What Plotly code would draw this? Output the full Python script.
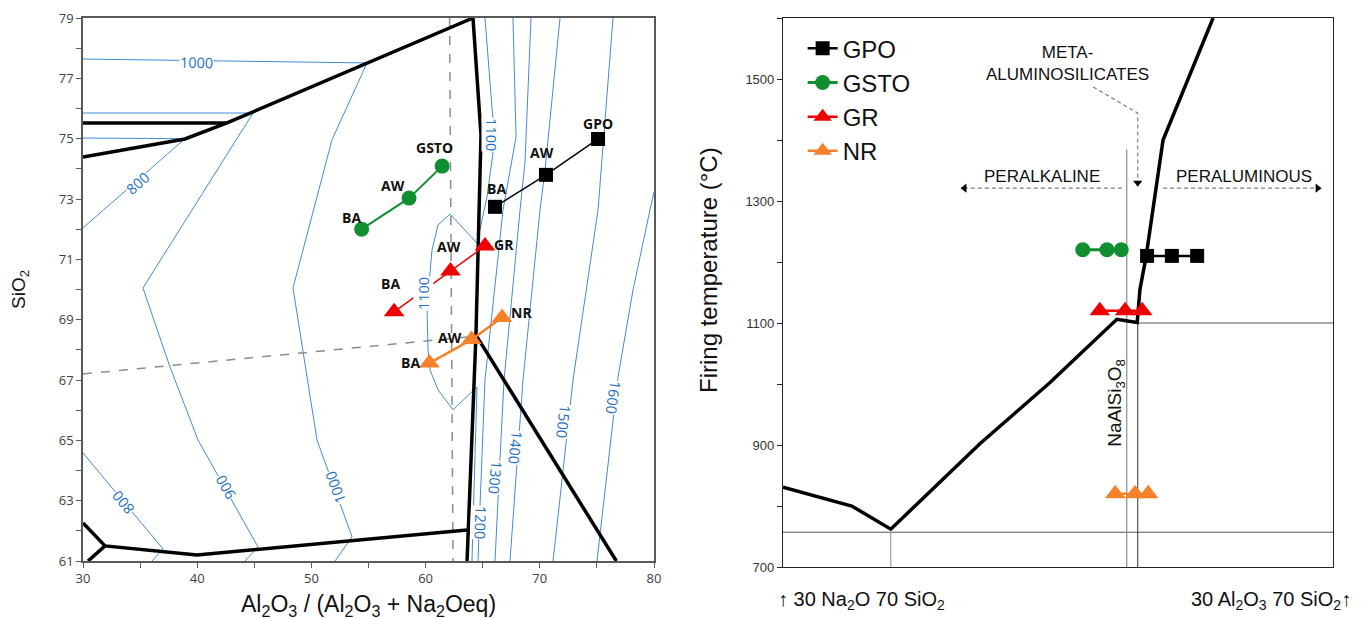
import plotly.graph_objects as go

# ================= LEFT PANEL DATA (x = Al2O3/(Al2O3+Na2Oeq), y = SiO2) =================
GSTO_x = [54.40, 58.55, 61.45]
GSTO_y = [72.00, 73.03, 74.09]
GPO_x = [66.08, 70.54, 75.10]
GPO_y = [72.74, 73.80, 74.99]
GR_x = [57.24, 62.18, 65.20]
GR_y = [69.26, 70.61, 71.44]
NR_x = [60.34, 64.02, 66.69]
NR_y = [67.56, 68.34, 69.07]

# phase-field boundaries (thick black)
B_top_x = [30, 38.93, 42.61, 64.15]
B_top_y = [74.39, 74.99, 75.52, 79.0]
B_hor_x = [30, 42.61]
B_hor_y = [75.52, 75.52]
B_vert_x = [64.15, 64.85, 64.41, 63.63]
B_vert_y = [79.0, 75.12, 68.49, 61.0]
B_diag_x = [64.41, 76.70]
B_diag_y = [68.49, 61.0]
B_bot_x = [30, 31.93, 39.98, 63.63]
B_bot_y = [62.26, 61.50, 61.20, 62.03]
B_corner_x = [31.93, 30.44]
B_corner_y = [61.50, 61.0]

# dashed reference lines
D_vert_x = [62.10, 62.40]
D_vert_y = [79.0, 61.0]
D_slant_x = [30, 64.30]
D_slant_y = [67.20, 68.45]

# isotherms (thin blue)
C800a_x = [30, 38.93, 30]
C800a_y = [75.02, 75.00, 72.04]
C800b_x = [30, 37.01, 36.04]
C800b_y = [64.58, 61.40, 61.0]
C900_x = [30, 44.89, 35.25, 37.62, 40.07, 45.32, 44.19]
C900_y = [75.85, 75.85, 70.05, 67.43, 65.01, 61.47, 61.0]
C1000_x = [30, 54.87, 51.80, 48.39, 50.49, 53.56, 52.07]
C1000_y = [77.64, 77.51, 74.96, 70.05, 65.01, 61.80, 61.0]
C1100_x = [65.20, 65.90, 65.90, 65.38, 64.50, 62.14, 61.09, 60.56, 60.12, 60.21, 60.39, 61.09, 62.40, 64.50, 64.06]
C1100_y = [79.0, 75.62, 74.53, 73.07, 71.54, 72.50, 72.14, 71.31, 69.42, 68.00, 67.33, 66.67, 66.01, 66.77, 61.0]
C1200_x = [67.65, 67.92, 66.78, 65.20, 64.76, 64.59]
C1200_y = [79.0, 75.06, 72.64, 67.00, 62.79, 61.0]
C1300_x = [69.23, 68.70, 68.27, 66.87, 66.51, 66.08]
C1300_y = [79.0, 74.19, 72.64, 67.00, 64.35, 61.0]
C1400_x = [71.77, 70.46, 70.02, 68.53, 67.39]
C1400_y = [79.0, 73.96, 72.64, 67.00, 61.0]
C1500_x = [76.41, 75.10, 72.91, 71.16]
C1500_y = [79.0, 72.64, 67.00, 61.0]
C1600_x = [80.0, 79.65, 78.16, 76.85, 75.01]
C1600_y = [73.23, 72.64, 69.98, 67.10, 61.0]

iso_labels = ["800", "1000", "800", "900", "1000", "1100", "1100", "1200", "1300", "1400", "1500", "1600"]
iso_label_x = [34.73, 39.98, 33.50, 42.43, 52.07, 59.77, 65.81, 64.76, 66.08, 67.83, 72.03, 76.41]
iso_label_y = [73.53, 77.54, 62.96, 63.45, 63.42, 69.88, 75.12, 62.26, 63.79, 64.78, 65.61, 66.44]
iso_label_angle = [-41, 1, -130, -119, -110, -90, 90, 92, 95, 96, 97, 98]

# ================= RIGHT PANEL DATA (x = composition 0..100, y = firing temperature) =================
LIQ_x = [0, 12.5, 19.6, 35.8, 48.5, 60.7, 64.4, 64.9, 66.0, 69.1, 78.2]
LIQ_T = [831, 800, 762, 902, 1002, 1106, 1101, 1155, 1208, 1400, 1600]
EUT_X = 19.6
EUT_T = 757
ALB_X = 62.5
ALB_TOP_T = 1385
SAT_X = 64.5
SAT_T = 1100

GPO_R_x = [66.2, 70.7, 75.3]
GPO_R_T = [1210, 1210, 1210]
GSTO_R_x = [54.5, 58.9, 61.5]
GSTO_R_T = [1220, 1220, 1220]
GR_R_x = [57.6, 62.2, 65.3]
GR_R_T = [1120, 1120, 1120]
NR_R_x = [60.4, 64.0, 66.4]
NR_R_T = [820, 820, 820]

META_x = [56.4, 64.5, 64.5]
META_T = [1487, 1444, 1330]
PALK_x = [61.6, 33.0]
PALU_x = [69.1, 97.2]
ARROW_T = 1321

# ================= STYLE =================
BLUE_LINE = "#3f8bd8"
BLUE_TXT = "#1a6fc4"
GREEN = "#0f8f2f"
RED = "#ee0000"
ORANGE = "#f5822a"
BLACK = "#000000"

W, H = 1363, 619
OFF = 8  # page body margin of the browser


def xp(px):
    return (px - OFF) / W


def yp(py):
    return 1 - (py - OFF) / H


fig = go.Figure()


def L(x, y, color, width, dash=None):
    fig.add_trace(go.Scatter(x=x, y=y, mode="lines", xaxis="x", yaxis="y", showlegend=False,
                             hoverinfo="skip",
                             line=dict(color=color, width=width, dash=dash)))


def R(x, y, color, width, dash=None):
    fig.add_trace(go.Scatter(x=x, y=y, mode="lines", xaxis="x2", yaxis="y2", showlegend=False,
                             hoverinfo="skip",
                             line=dict(color=color, width=width, dash=dash)))


# isotherms
for cx, cy in [(C800a_x, C800a_y), (C800b_x, C800b_y), (C900_x, C900_y), (C1000_x, C1000_y),
               (C1100_x, C1100_y), (C1200_x, C1200_y), (C1300_x, C1300_y), (C1400_x, C1400_y),
               (C1500_x, C1500_y), (C1600_x, C1600_y)]:
    L(cx, cy, BLUE_LINE, 1)

# dashed lines
L(D_vert_x, D_vert_y, "#8c8c8c", 1.5, "dash")
L(D_slant_x, D_slant_y, "#8c8c8c", 1.5, "dash")

# boundaries
for bx, by in [(B_top_x, B_top_y), (B_hor_x, B_hor_y), (B_vert_x, B_vert_y), (B_diag_x, B_diag_y),
               (B_bot_x, B_bot_y), (B_corner_x, B_corner_y)]:
    L(bx, by, BLACK, 3.5)

# samples (left)
left_series = [
    ("GSTO", GSTO_x, GSTO_y, GREEN, "circle", 15, 2),
    ("GPO", GPO_x, GPO_y, BLACK, "square", 14, 1.5),
    ("GR", GR_x, GR_y, RED, "triangle-up", 18, 1.5),
    ("NR", NR_x, NR_y, ORANGE, "triangle-up", 18, 2.5),
]
for name, sx, sy, col, sym, size, w in left_series:
    fig.add_trace(go.Scatter(x=sx, y=sy, mode="lines+markers", xaxis="x", yaxis="y", showlegend=False,
                             name=name, line=dict(color=col, width=w),
                             marker=dict(symbol=sym, size=size, color=col)))

# ---- right panel lines ----
R([0, 100], [EUT_T, EUT_T], "#555555", 1)
R([EUT_X, EUT_X], [700, EUT_T], "#8c8c8c", 1)
R([ALB_X, ALB_X], [700, ALB_TOP_T], "#8c8c8c", 1.2)
R([SAT_X, SAT_X], [700, SAT_T], "#333333", 1)
R([SAT_X, 100], [SAT_T, SAT_T], "#555555", 1)
R(LIQ_x, LIQ_T, BLACK, 3.5)

# dashed arrows
DASH = "4px,3px"
R(META_x, META_T, "#7f7f7f", 1.2, DASH)
R(PALK_x, [ARROW_T, ARROW_T], "#7f7f7f", 1.2, DASH)
R(PALU_x, [ARROW_T, ARROW_T], "#7f7f7f", 1.2, DASH)
fig.add_trace(go.Scatter(x=[META_x[-1], PALK_x[-1], PALU_x[-1]], y=[META_T[-1], ARROW_T, ARROW_T],
                         mode="markers", xaxis="x2", yaxis="y2", showlegend=False, hoverinfo="skip",
                         marker=dict(symbol=["triangle-down", "triangle-left", "triangle-right"],
                                     size=8, color="#000000")))

right_series = [
    ("GPO", GPO_R_x, GPO_R_T, BLACK, "square", 14, 2.5),
    ("GSTO", GSTO_R_x, GSTO_R_T, GREEN, "circle", 15, 3),
    ("GR", GR_R_x, GR_R_T, RED, "triangle-up", 18, 2.5),
    ("NR", NR_R_x, NR_R_T, ORANGE, "triangle-up", 18, 2.5),
]
for name, sx, sy, col, sym, size, w in right_series:
    fig.add_trace(go.Scatter(x=sx, y=sy, mode="lines+markers", xaxis="x2", yaxis="y2", showlegend=True,
                             name=name, line=dict(color=col, width=w),
                             marker=dict(symbol=sym, size=size, color=col)))

annotations = []
# isotherm labels
for t, ax_, ay_, ang in zip(iso_labels, iso_label_x, iso_label_y, iso_label_angle):
    annotations.append(dict(x=ax_, y=ay_, xref="x", yref="y", text=t, showarrow=False, textangle=ang,
                            xanchor="center", yanchor="middle",
                            font=dict(family="Open Sans", size=14.5, color=BLUE_TXT),
                            bgcolor="white", borderpad=0))

# sample labels: (x, y, text, xshift, yshift)
label_specs = [
    (GSTO_x[0], GSTO_y[0], "BA", -10, 12), (GSTO_x[1], GSTO_y[1], "AW", -16, 13), (GSTO_x[2], GSTO_y[2], "GSTO", -8, 19),
    (GPO_x[0], GPO_y[0], "BA", 1, 18), (GPO_x[1], GPO_y[1], "AW", -4, 22), (GPO_x[2], GPO_y[2], "GPO", 0, 15),
    (GR_x[0], GR_y[0], "BA", -4, 28), (GR_x[1], GR_y[1], "AW", -2, 25), (GR_x[2], GR_y[2], "GR", 19, 2),
    (NR_x[0], NR_y[0], "BA", -19, 1), (NR_x[1], NR_y[1], "AW", -22, 2), (NR_x[2], NR_y[2], "NR", 19, 5),
]
for lx, ly, t, xs, ys in label_specs:
    annotations.append(dict(x=lx, y=ly, xref="x", yref="y", text="<b>" + t + "</b>", showarrow=False,
                            xanchor="center", yanchor="middle",
                            xshift=xs, yshift=ys, font=dict(family="Open Sans", size=14, color="#111111")))

TXT = dict(family="Liberation Sans", size=18, color="#111111")
SMALL = dict(family="Liberation Sans", size=17, color="#111111")
# axis titles & right-panel texts
annotations += [
    dict(x=xp(20), y=yp(290), xref="paper", yref="paper", text="SiO<sub>2</sub>", textangle=-90, showarrow=False,
         xanchor="center", yanchor="middle", font=dict(family="Liberation Sans", size=19, color="#111111")),
    dict(x=xp(368), y=yp(605), xref="paper", yref="paper",
         text="Al<sub>2</sub>O<sub>3</sub> / (Al<sub>2</sub>O<sub>3</sub> + Na<sub>2</sub>Oeq)",
         showarrow=False, xanchor="center", yanchor="middle",
         font=dict(family="Liberation Sans", size=23, color="#111111")),
    dict(x=xp(708), y=yp(270), xref="paper", yref="paper", text="Firing temperature (°C)", textangle=-90,
         showarrow=False, xanchor="center", yanchor="middle",
         font=dict(family="Liberation Sans", size=24, color="#111111")),
    dict(x=xp(776), y=yp(600), xref="paper", yref="paper", xanchor="left", yanchor="middle",
         text="↑ 30 Na<sub>2</sub>O 70 SiO<sub>2</sub>", showarrow=False,
         font=dict(family="Liberation Sans", size=20, color="#111111")),
    dict(x=xp(1353), y=yp(600), xref="paper", yref="paper", xanchor="right", yanchor="middle",
         text="30 Al<sub>2</sub>O<sub>3</sub> 70 SiO<sub>2</sub>↑", showarrow=False,
         font=dict(family="Liberation Sans", size=20, color="#111111")),
    dict(x=51.8, y=1525, xref="x2", yref="y2", text="META-<br>ALUMINOSILICATES", showarrow=False,
         xanchor="center", yanchor="middle", font=SMALL),
    dict(x=47.1, y=1340, xref="x2", yref="y2", text="PERALKALINE", showarrow=False,
         xanchor="center", yanchor="middle", font=SMALL),
    dict(x=83.9, y=1340, xref="x2", yref="y2", text="PERALUMINOUS", showarrow=False,
         xanchor="center", yanchor="middle", font=SMALL),
    dict(x=60.5, y=969, xref="x2", yref="y2", text="NaAlSi<sub>3</sub>O<sub>8</sub>", textangle=-90, showarrow=False,
         xanchor="center", yanchor="middle", font=dict(family="Liberation Sans", size=19, color="#111111")),
]

AX_LINE = "#595959"
fig.update_layout(
    width=W, height=H,
    margin=dict(l=0, r=0, t=0, b=0, autoexpand=False),
    paper_bgcolor="white", plot_bgcolor="white",
    showlegend=True,
    legend=dict(x=0.583, y=0.9707, xanchor="left", yanchor="top", bgcolor="rgba(0,0,0,0)",
                font=dict(family="Liberation Sans", size=24, color="#111111"), tracegroupgap=0),
    xaxis=dict(domain=[xp(83), xp(654)], range=[30, 80], tickvals=[30, 40, 50, 60, 70, 80],
               ticks="outside", ticklen=5, tickcolor=AX_LINE, showline=True, mirror=True, linecolor=AX_LINE,
               linewidth=1.5, showgrid=False, zeroline=False, automargin=False,
               minor=dict(dtick=5, ticks="outside", ticklen=5, tickcolor=AX_LINE, showgrid=False),
               tickfont=dict(family="Open Sans", size=13, color="#404040"), anchor="y"),
    yaxis=dict(domain=[yp(561), yp(18)], range=[61, 79], tickvals=list(range(61, 80, 2)),
               ticks="outside", ticklen=5, tickcolor=AX_LINE, showline=True, mirror=True, linecolor=AX_LINE,
               linewidth=1.5, showgrid=False, zeroline=False, automargin=False,
               minor=dict(dtick=1, ticks="outside", ticklen=5, tickcolor=AX_LINE, showgrid=False),
               tickfont=dict(family="Open Sans", size=13, color="#404040"), anchor="x"),
    xaxis2=dict(domain=[xp(783), xp(1333)], range=[0, 100], showticklabels=False, ticks="",
                showline=True, mirror=True, linecolor="#222222", linewidth=1.2, showgrid=False, zeroline=False,
                automargin=False, anchor="y2"),
    yaxis2=dict(domain=[yp(567), yp(18)], range=[700, 1600], tickvals=[700, 900, 1100, 1300, 1500],
                ticks="outside", ticklen=5, tickcolor="#222222", showline=True, mirror=True, linecolor="#222222",
                linewidth=1.2, showgrid=False, zeroline=False, automargin=False,
                minor=dict(dtick=100, ticks="outside", ticklen=5, tickcolor="#222222", showgrid=False),
                tickfont=dict(family="Liberation Sans", size=13, color="#333333"), anchor="x2"),
    annotations=annotations,
)

fig.write_html("out.html")
